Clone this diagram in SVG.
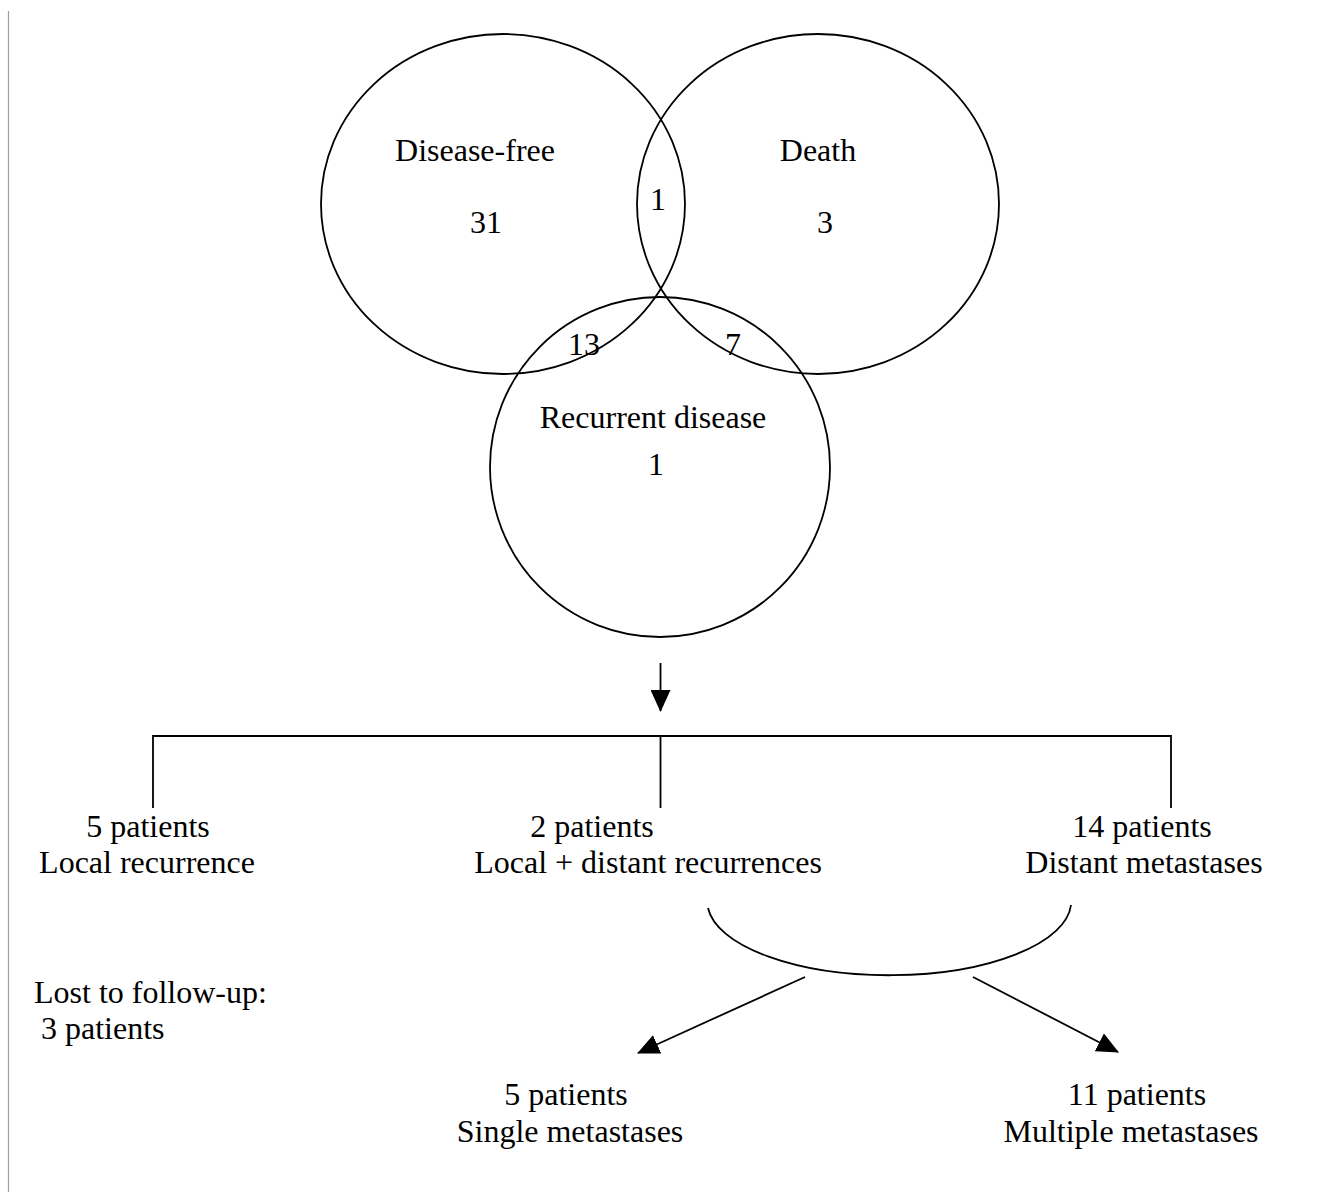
<svg xmlns="http://www.w3.org/2000/svg" width="1328" height="1192" viewBox="0 0 1328 1192">
<style>
text{font-family:"Liberation Serif","Times New Roman",serif;font-size:32px;fill:#000;text-anchor:middle}
.shape{fill:none;stroke:#000;stroke-width:1.8}
.conn{fill:none;stroke:#000;stroke-width:1.8}
</style>
<defs>
<marker id="arr" viewBox="0 0 22 20" refX="21" refY="10" markerWidth="22" markerHeight="20" markerUnits="userSpaceOnUse" orient="auto">
<path d="M0,0 L22,10 L0,20 Z" fill="#000"/>
</marker>
</defs>
<rect width="1328" height="1192" fill="#fff"/>
<line x1="8.5" y1="11" x2="8.5" y2="1192" stroke="#a0a0a0" stroke-width="1.2"/>
<g id="disease-free">
<ellipse class="shape" cx="503" cy="204" rx="182" ry="170"/>
<text x="475" y="161">Disease-free</text>
<text x="486" y="233">31</text>
</g>
<g id="death">
<ellipse class="shape" cx="818" cy="204" rx="181" ry="170"/>
<text x="818" y="161">Death</text>
<text x="825" y="233">3</text>
</g>
<g id="recurrent">
<ellipse class="shape" cx="660" cy="467" rx="170" ry="170"/>
<text x="653" y="428">Recurrent disease</text>
<text x="656" y="475">1</text>
</g>
<g id="overlaps">
<text x="658" y="210">1</text>
<text x="584" y="355">13</text>
<text x="733" y="355">7</text>
</g>
<g id="local">
<text x="148" y="837">5 patients</text>
<text x="147" y="873">Local recurrence</text>
</g>
<g id="local-distant">
<text x="592" y="837">2 patients</text>
<text x="648" y="873">Local + distant recurrences</text>
</g>
<g id="distant">
<text x="1142" y="837">14 patients</text>
<text x="1144" y="873">Distant metastases</text>
</g>
<g id="lost">
<text x="34" y="1003" style="text-anchor:start">Lost to follow-up:</text>
<text x="41" y="1039" style="text-anchor:start">3 patients</text>
</g>
<g id="single">
<text x="566" y="1105">5 patients</text>
<text x="570" y="1142">Single metastases</text>
</g>
<g id="multiple">
<text x="1137" y="1105">11 patients</text>
<text x="1131" y="1142">Multiple metastases</text>
</g>
<g id="connectors">
<line class="conn" x1="660.5" y1="663" x2="660.5" y2="711" marker-end="url(#arr)"/>
<polyline class="conn" points="153,808 153,736 1171,736 1171,808"/>
<line class="conn" x1="660.5" y1="736" x2="660.5" y2="808"/>
<path class="conn" d="M708,908 A182,74 0 0 0 1071,905"/>
<line class="conn" x1="805" y1="977" x2="638" y2="1053" marker-end="url(#arr)"/>
<line class="conn" x1="973" y1="977" x2="1118" y2="1052" marker-end="url(#arr)"/>
</g>
</svg>
